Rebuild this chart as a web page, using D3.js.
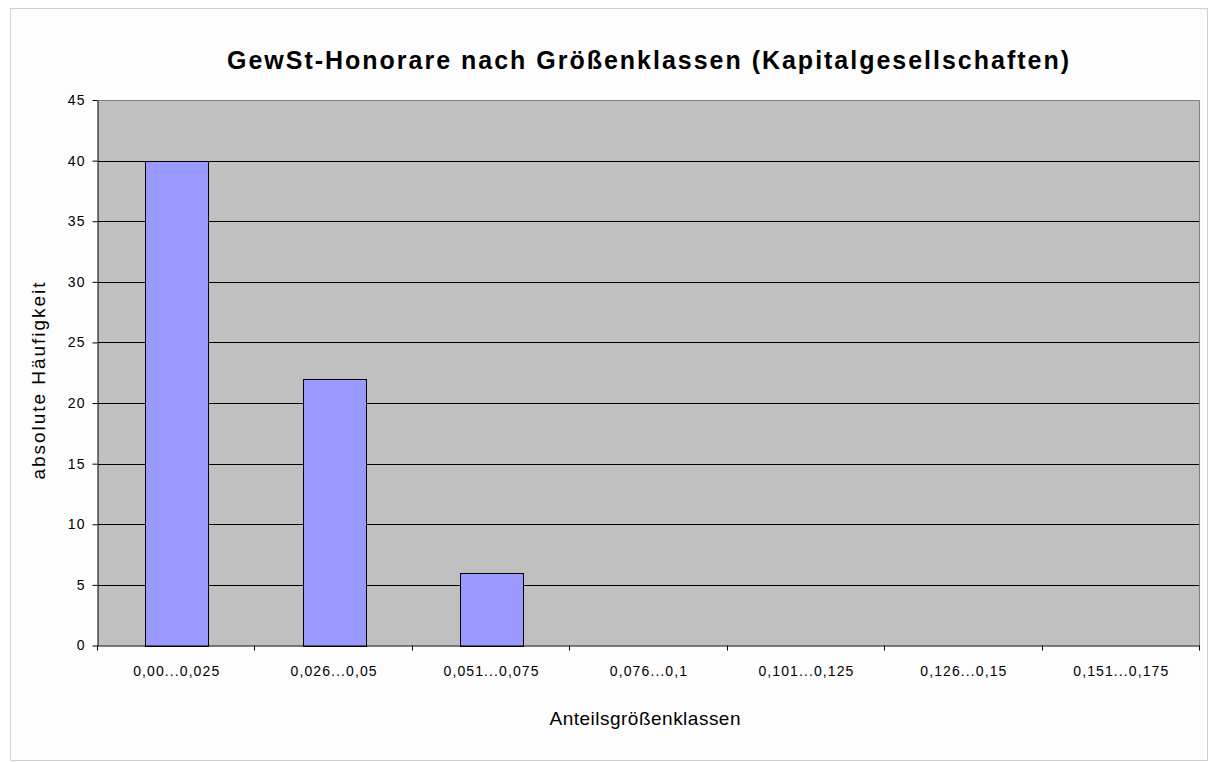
<!DOCTYPE html>
<html><head><meta charset="utf-8">
<script src="https://cdn.jsdelivr.net/npm/d3@7"></script>
<style>body{margin:0;background:#fff}svg{display:block}</style>
</head><body>
<script>
const categories = ["0,00...0,025","0,026...0,05","0,051...0,075","0,076...0,1","0,101...0,125","0,126...0,15","0,151...0,175"];
const values = [40, 22, 6, 0, 0, 0, 0];
const yTicks = [0,5,10,15,20,25,30,35,40,45];
const title = "GewSt-Honorare nach Größenklassen (Kapitalgesellschaften)";
const xTitle = "Anteilsgrößenklassen";
const yTitle = "absolute Häufigkeit";

const W = 1218, H = 762;
const svg = d3.select("body").append("svg").attr("width", W).attr("height", H);
const font = "Arial, 'Liberation Sans', sans-serif";

svg.append("rect").attr("x",10.5).attr("y",8.5).attr("width",1197).attr("height",752)
  .attr("fill","#fdfdfd").attr("stroke","#d0d0d0").attr("stroke-width",1);

const L = 98, R = 1200, T = 100, B = 645.5;
const x = d3.scaleBand().domain(categories).range([L, R]).paddingInner(0.6).paddingOuter(0.3);
const xb = d3.scaleBand().domain(categories).range([L, R]);
const y = d3.scaleLinear().domain([0,45]).range([B, T]);

svg.append("rect").attr("x",L).attr("y",T).attr("width",R-L).attr("height",B-T).attr("fill","#c0c0c0");

svg.append("g").selectAll("line").data(yTicks.filter(v=>v>0 && v<45)).join("line")
  .attr("x1",L).attr("x2",R).attr("y1",d=>Math.round(y(d))+0.5).attr("y2",d=>Math.round(y(d))+0.5)
  .attr("stroke","#000").attr("stroke-width",1);

svg.append("path").attr("d",`M${L},${T+0.5}H${R-0.5}V${B}`).attr("fill","none").attr("stroke","#808080");

svg.append("g").selectAll("rect").data(values.map((v,i)=>({c:categories[i],v}))).join("rect")
  .filter(d=>d.v>0)
  .attr("x",d=>Math.round(x(d.c))+0.5).attr("width",Math.round(x.bandwidth()))
  .attr("y",d=>Math.round(y(d.v))+0.5).attr("height",d=>Math.round(y(0))-Math.round(y(d.v)))
  .attr("fill","#9999ff").attr("stroke","#000").attr("stroke-width",1);

// y axis
const ya = d3.axisLeft(y).tickValues(yTicks).tickSize(5).tickSizeOuter(0).tickPadding(8);
const gy = svg.append("g").attr("transform",`translate(${L-0.5},0)`).call(ya);
gy.selectAll("text").attr("font-family",font).attr("font-size",14).attr("fill","#000")
  .attr("letter-spacing","1.3px").attr("dx","1.3");
gy.selectAll("line,path").attr("stroke","#000");

// x axis
const gx = svg.append("g").attr("transform",`translate(0,${B})`);
gx.append("line").attr("x1",L-0.5).attr("x2",R).attr("y1",0.5).attr("y2",0.5).attr("stroke","#000");
const bounds = categories.map(c=>xb(c)).concat([R]);
gx.selectAll("line.t").data(bounds).join("line").attr("class","t")
  .attr("x1",d=>Math.round(d)-0.5).attr("x2",d=>Math.round(d)-0.5).attr("y1",0).attr("y2",5).attr("stroke","#000");
gx.selectAll("text").data(categories).join("text")
  .attr("x",d=>xb(d)+xb.bandwidth()/2).attr("y",30.5).attr("text-anchor","middle")
  .attr("font-family",font).attr("font-size",14).attr("letter-spacing","1.1px").attr("fill","#000").text(d=>d);

svg.append("text").attr("x",648).attr("y",69).attr("text-anchor","middle")
  .attr("font-family",font).attr("font-size",25).attr("font-weight","bold")
  .attr("textLength",842).attr("lengthAdjust","spacing").text(title);
svg.append("text").attr("x",645).attr("y",725).attr("text-anchor","middle")
  .attr("font-family",font).attr("font-size",19)
  .attr("textLength",191).attr("lengthAdjust","spacing").text(xTitle);
svg.append("text").attr("transform","translate(45,381) rotate(-90)").attr("text-anchor","middle")
  .attr("font-family",font).attr("font-size",19)
  .attr("textLength",197).attr("lengthAdjust","spacing").text(yTitle);
</script>
</body></html>
